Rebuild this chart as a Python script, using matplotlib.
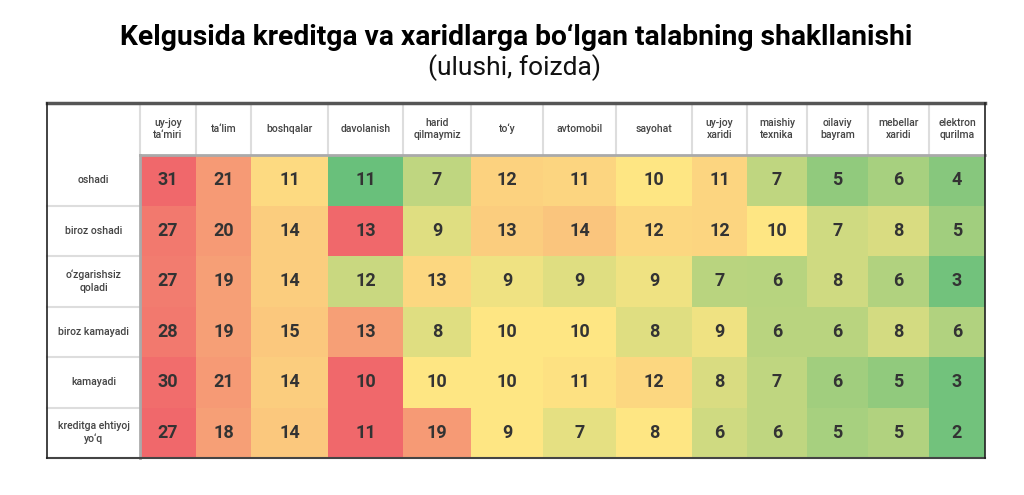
import matplotlib.pyplot as plt
from matplotlib.colors import LinearSegmentedColormap
import numpy as np

# data
columns = ["uy-joy\nta\u2018miri", "ta\u2018lim", "boshqalar", "davolanish", "harid\nqilmaymiz",
           "to\u2018y", "avtomobil", "sayohat", "uy-joy\nxaridi", "maishiy\ntexnika",
           "oilaviy\nbayram", "mebellar\nxaridi", "elektron\nqurilma"]
rows = ["oshadi", "biroz oshadi", "o\u2018zgarishsiz\nqoladi", "biroz kamayadi",
        "kamayadi", "kreditga ehtiyoj\nyo\u2018q"]

oshadi = [31, 21, 11, 11, 7, 12, 11, 10, 11, 7, 5, 6, 4]
biroz_oshadi = [27, 20, 14, 13, 9, 13, 14, 12, 12, 10, 7, 8, 5]
ozgarishsiz = [27, 19, 14, 12, 13, 9, 9, 9, 7, 6, 8, 6, 3]
biroz_kamayadi = [28, 19, 15, 13, 8, 10, 10, 8, 9, 6, 6, 8, 6]
kamayadi = [30, 21, 14, 10, 10, 10, 11, 12, 8, 7, 6, 5, 3]
ehtiyoj_yoq = [27, 18, 14, 11, 19, 9, 7, 8, 6, 6, 5, 5, 2]

# cell shading (0 = green, 0.5 = yellow, 1 = red)
shade_oshadi = [1.0, 0.8, 0.55, 0.02, 0.3, 0.58, 0.57, 0.5, 0.57, 0.3, 0.15, 0.22, 0.12]
shade_biroz_oshadi = [0.93, 0.8, 0.6, 1.0, 0.4, 0.6, 0.63, 0.56, 0.57, 0.5, 0.35, 0.38, 0.2]
shade_ozgarishsiz = [0.92, 0.78, 0.6, 0.33, 0.56, 0.45, 0.4, 0.45, 0.28, 0.27, 0.35, 0.25, 0.05]
shade_biroz_kamayadi = [0.93, 0.78, 0.62, 0.78, 0.4, 0.5, 0.5, 0.4, 0.45, 0.28, 0.28, 0.36, 0.25]
shade_kamayadi = [0.98, 0.8, 0.6, 1.0, 0.5, 0.5, 0.52, 0.56, 0.38, 0.3, 0.2, 0.15, 0.05]
shade_ehtiyoj_yoq = [1.0, 0.78, 0.62, 1.0, 0.8, 0.5, 0.42, 0.5, 0.35, 0.3, 0.22, 0.25, 0.05]

values = np.array([oshadi, biroz_oshadi, ozgarishsiz, biroz_kamayadi, kamayadi, ehtiyoj_yoq])
shades = np.array([shade_oshadi, shade_biroz_oshadi, shade_ozgarishsiz,
                   shade_biroz_kamayadi, shade_kamayadi, shade_ehtiyoj_yoq])

# layout in pixels
left, label_w = 47, 93
col_w = [56, 55, 77, 75, 68, 72, 73, 76, 55, 60, 61, 61, 56]
top, head_h, row_h = 103, 52, 50.5

x_edges = left + label_w + np.concatenate([[0], np.cumsum(col_w)])
y_edges = top + head_h + row_h * np.arange(len(rows) + 1)
right = x_edges[-1]
bottom = y_edges[-1]

cmap = LinearSegmentedColormap.from_list("excel", ["#63BE7B", "#FEE683", "#F0686B"])

plt.rcParams['font.family'] = ['Roboto', 'DejaVu Sans']
fig = plt.figure(figsize=(10.24, 4.95), dpi=100)
ax = fig.add_axes([0, 0, 1, 1])
ax.set_xlim(0, 1024)
ax.set_ylim(495, 0)
ax.axis('off')

ax.pcolormesh(x_edges, y_edges, shades, cmap=cmap, vmin=0, vmax=1, shading='flat')

xc = (x_edges[:-1] + x_edges[1:]) / 2
yc = (y_edges[:-1] + y_edges[1:]) / 2
for i in range(len(rows)):
    for j in range(len(columns)):
        ax.text(xc[j], yc[i], str(values[i, j]), ha='center', va='center',
                fontsize=13, fontweight='bold', color='#333333')

# header
for j, c in enumerate(columns):
    ax.text(xc[j], top + head_h / 2, c, ha='center', va='center', fontsize=7.5,
            color='#444444', fontweight='medium', linespacing=1.3)
for x in x_edges[:-1]:
    ax.plot([x, x], [top, top + head_h], color='#dddddd', lw=1.5)

# row labels
for i, r in enumerate(rows):
    ax.text(left + label_w / 2, yc[i], r, ha='center', va='center', fontsize=7.6,
            color='#444444', fontweight='medium', linespacing=1.3)
for y in y_edges[1:-1]:
    ax.plot([left, x_edges[0]], [y, y], color='#dddddd', lw=1.5)

ax.plot([x_edges[0], right], [top + head_h, top + head_h], color='#aaaaaa', lw=2)
ax.plot([x_edges[0], x_edges[0]], [top + head_h, bottom], color='#aaaaaa', lw=2)

# outer frame
ax.plot([left, right], [top, top], color='#555555', lw=2.5)
ax.plot([left, right], [bottom, bottom], color='#444444', lw=1.5)
ax.plot([left, left], [top, bottom], color='#222222', lw=1.2)
ax.plot([right, right], [top, bottom], color='#222222', lw=1.2)

ax.text(516, 37, "Kelgusida kreditga va xaridlarga bo\u2018lgan talabning shakllanishi",
        ha='center', va='center', fontsize=20.3, fontweight='bold', color='#000000')
ax.text(514, 68, "(ulushi, foizda)", ha='center', va='center', fontsize=19, color='#111111')

fig.savefig('out.png', dpi=100)
